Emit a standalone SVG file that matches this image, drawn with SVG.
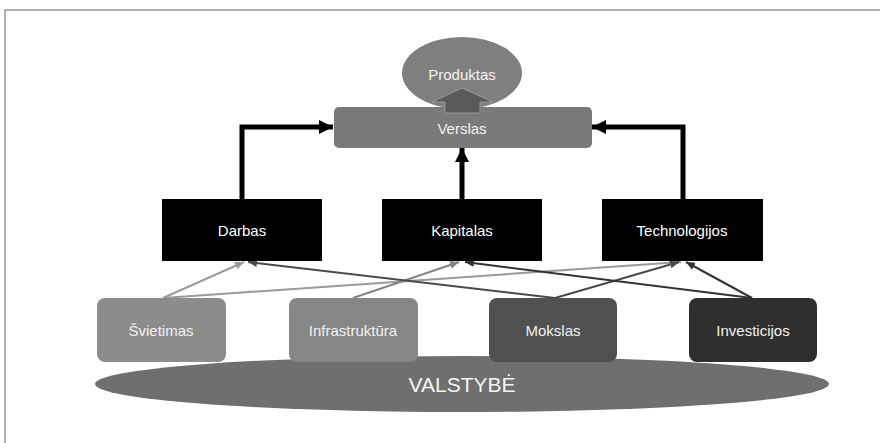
<svg xmlns="http://www.w3.org/2000/svg" width="880" height="443" viewBox="0 0 880 443">
<style>
  text { font-family: "Liberation Sans", Arial, sans-serif; text-anchor: middle; }
  .lbl { font-size: 15px; fill: #f2f2f2; }
  .wlbl { font-size: 15px; fill: #ffffff; }
  .big { font-size: 21px; fill: #f5f5f5; }
  .thick { fill: none; stroke: #000; stroke-width: 5; }
  .thin { fill: none; stroke-width: 2; }
</style>
<defs>
  <marker id="ahBig" markerUnits="userSpaceOnUse" markerWidth="16" markerHeight="16" refX="14" refY="8" orient="auto">
    <path d="M0,1 L14,8 L0,15 Z" fill="#000"/>
  </marker>
  <marker id="ahLight" markerUnits="userSpaceOnUse" markerWidth="10" markerHeight="10" refX="9" refY="5" orient="auto">
    <path d="M0,1 L9,5 L0,9 Z" fill="#9a9a9a"/>
  </marker>
  <marker id="ahMid" markerUnits="userSpaceOnUse" markerWidth="10" markerHeight="10" refX="9" refY="5" orient="auto">
    <path d="M0,1 L9,5 L0,9 Z" fill="#858585"/>
  </marker>
  <marker id="ahDark" markerUnits="userSpaceOnUse" markerWidth="10" markerHeight="10" refX="9" refY="5" orient="auto">
    <path d="M0,1 L9,5 L0,9 Z" fill="#4a4a4a"/>
  </marker>
  <marker id="ahDarker" markerUnits="userSpaceOnUse" markerWidth="10" markerHeight="10" refX="9" refY="5" orient="auto">
    <path d="M0,1 L9,5 L0,9 Z" fill="#333"/>
  </marker>
</defs>

<rect x="5" y="10" width="880" height="440" fill="#fff" stroke="#666" stroke-width="1"/>

<g id="valstybe">
  <ellipse cx="462" cy="384" rx="367" ry="28" fill="#6f6f6f"/>
  <text class="big" x="462" y="392">VALSTYBĖ</text>
</g>

<g id="produktas">
  <ellipse cx="462" cy="73" rx="60" ry="36" fill="#7f7f7f"/>
  <text class="lbl" x="462" y="80">Produktas</text>
</g>

<g id="verslas">
  <rect x="334" y="107" width="258" height="41" rx="5" fill="#7a7a7a"/>
  <text class="lbl" x="462" y="134">Verslas</text>
</g>

<g id="upArrow">
  <polygon points="445,113 445,102 432,102 462,88 493,102 480,102 480,113" fill="#595959" stroke="#9a9a9a" stroke-width="1"/>
</g>

<g id="connectors">
  <path class="thick" d="M242,199 V127 H333" marker-end="url(#ahBig)"/>
  <path class="thick" d="M462,199 V148" marker-end="url(#ahBig)"/>
  <path class="thick" d="M683,199 V127 H592" marker-end="url(#ahBig)"/>

  <line class="thin" x1="163" y1="298" x2="681" y2="262" stroke="#9a9a9a" marker-end="url(#ahLight)"/>
  <line class="thin" x1="163" y1="298" x2="244" y2="262" stroke="#9a9a9a" marker-end="url(#ahLight)"/>
  <line class="thin" x1="353" y1="298" x2="459" y2="262" stroke="#858585" marker-end="url(#ahMid)"/>
  <line class="thin" x1="555" y1="298" x2="248" y2="262" stroke="#4a4a4a" marker-end="url(#ahDark)"/>
  <line class="thin" x1="555" y1="298" x2="679" y2="262" stroke="#4a4a4a" marker-end="url(#ahDark)"/>
  <line class="thin" x1="752" y1="298" x2="465" y2="262" stroke="#333" marker-end="url(#ahDarker)"/>
  <line class="thin" x1="752" y1="298" x2="686" y2="262" stroke="#333" marker-end="url(#ahDarker)"/>
</g>

<g id="darbas">
  <rect x="162" y="199" width="160" height="62" fill="#000"/>
  <text class="wlbl" x="242" y="236">Darbas</text>
</g>
<g id="kapitalas">
  <rect x="382" y="199" width="160" height="62" fill="#000"/>
  <text class="wlbl" x="462" y="236">Kapitalas</text>
</g>
<g id="technologijos">
  <rect x="602" y="199" width="161" height="62" fill="#000"/>
  <text class="wlbl" x="682" y="236">Technologijos</text>
</g>

<g id="svietimas">
  <rect x="97" y="298" width="129" height="64" rx="8" fill="#8c8c8c"/>
  <text class="lbl" x="161" y="336">Švietimas</text>
</g>
<g id="infrastruktura">
  <rect x="289" y="298" width="129" height="64" rx="8" fill="#868686"/>
  <text class="lbl" x="353" y="336">Infrastruktūra</text>
</g>
<g id="mokslas">
  <rect x="489" y="298" width="128" height="64" rx="8" fill="#505050"/>
  <text class="lbl" x="553" y="336">Mokslas</text>
</g>
<g id="investicijos">
  <rect x="689" y="298" width="128" height="64" rx="8" fill="#2f2f2f"/>
  <text class="lbl" x="753" y="336">Investicijos</text>
</g>
</svg>
